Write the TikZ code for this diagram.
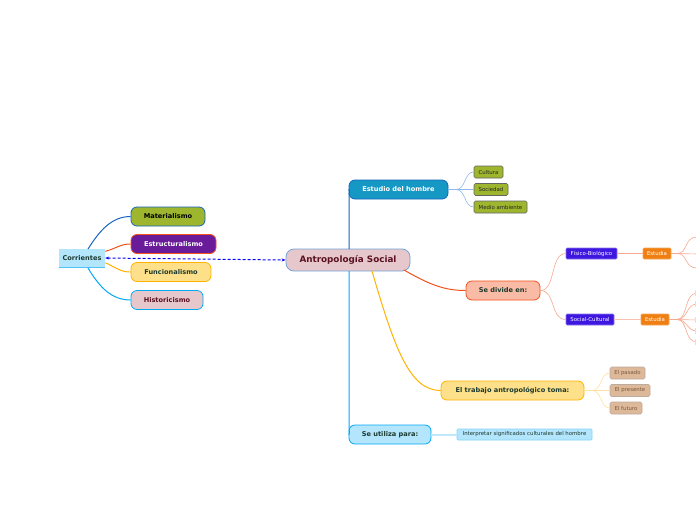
\documentclass[tikz,border=0pt]{standalone}
\usepackage{fontspec}
\setmainfont{DejaVu Sans}
\usetikzlibrary{arrows.meta}
\definecolor{cBlue}{HTML}{1565C0}
\definecolor{cRed}{HTML}{F4511E}
\definecolor{cYel}{HTML}{FFB300}
\definecolor{cCyan}{HTML}{03A9F4}
\definecolor{fCyan}{HTML}{B3E5FC}
\definecolor{fOlive}{HTML}{9EB52E}
\definecolor{fPurple}{HTML}{6A1B9A}
\definecolor{fYel}{HTML}{FFE08A}
\definecolor{fPink}{HTML}{E6C8CC}
\definecolor{fTeal}{HTML}{1598C3}
\definecolor{fSalmon}{HTML}{F9BBA5}
\definecolor{fIndigo}{HTML}{3D16E0}
\definecolor{fOrange}{HTML}{F07F12}
\definecolor{fTan}{HTML}{DDB899}
\definecolor{tDark}{HTML}{1B3A2E}
\definecolor{tWine}{HTML}{5A1020}
\definecolor{tBrown}{HTML}{7A5A40}
\definecolor{lBlue}{HTML}{90B8F0}
\definecolor{lSalmon}{HTML}{F8A890}
\definecolor{lYel}{HTML}{FFE2A0}
\definecolor{lCyan}{HTML}{C0E8FA}
\tikzset{
  box/.style={rounded corners=6pt, line width=0.8pt, font=\bfseries\fontsize{6.6}{7.5}\selectfont, inner sep=0pt, align=center},
  leaf/.style={rounded corners=1.5pt, line width=0.6pt, font=\fontsize{5.4}{6}\selectfont, inner sep=0pt, align=center},
  conn/.style={line width=1pt},
  thin/.style={line width=0.6pt}
}
\begin{document}
\begin{tikzpicture}[x=1pt,y=-1pt]
\useasboundingbox[fill=white] (0,0) rectangle (696,520);
% main nodes
\node[box, fill=fPink, draw=cBlue!60, text=tWine, minimum width=124pt, minimum height=22pt, rounded corners=8pt, font=\bfseries\fontsize{8.8}{10}\selectfont] (root) at (348,260) {Antropología Social};
\node[fill=fCyan, inner sep=0pt, minimum width=46pt, minimum height=19pt, font=\bfseries\fontsize{6.6}{7.5}\selectfont, text=tDark] (corr) at (82,258) {Corrientes};
\draw[cCyan!70, line width=0.8pt] (corr.south west) -- (corr.south east);
\node[box, fill=fOlive, draw=cBlue, text=black, minimum width=74pt, minimum height=19pt] (mat) at (168,216.5) {Materialismo};
\node[box, fill=fPurple, draw=cRed, text=white, minimum width=85pt, minimum height=19pt] (est) at (173.5,244) {Estructuralismo};
\node[box, fill=fYel, draw=cYel, text=tDark, minimum width=80pt, minimum height=19pt] (fun) at (171,272) {Funcionalismo};
\node[box, fill=fPink, draw=cCyan, text=tWine, minimum width=72pt, minimum height=19pt] (his) at (167,300) {Historicismo};

\node[box, fill=fTeal, draw=cBlue, text=white, minimum width=99pt, minimum height=19pt] (estud) at (398.5,189.5) {Estudio del hombre};
\node[leaf, fill=fOlive, draw=black!60, text=black!85, minimum width=29pt, minimum height=12pt] (cul) at (488.5,172) {Cultura};
\node[leaf, fill=fOlive, draw=black!60, text=black!85, minimum width=34pt, minimum height=12pt] (soc) at (491,189.5) {Sociedad};
\node[leaf, fill=fOlive, draw=black!60, text=black!85, minimum width=53pt, minimum height=12pt] (med) at (500.5,207) {Medio ambiente};

\node[box, fill=fSalmon, draw=cRed, text=tDark, minimum width=74pt, minimum height=19pt] (div) at (503,290.5) {Se divide en:};
\node[leaf, fill=fIndigo, draw=fIndigo!60, text=white, minimum width=51pt, minimum height=11pt, rounded corners=1pt] (fis) at (591.5,253.5) {Físico-Biológico};
\node[leaf, fill=fOrange, draw=fOrange!70, text=white, minimum width=28pt, minimum height=11pt, rounded corners=1pt] (e1) at (657,253.5) {Estudia};
\node[leaf, fill=fIndigo, draw=fIndigo!60, text=white, minimum width=48pt, minimum height=11pt, rounded corners=1pt] (sc) at (590,319.5) {Social-Cultural};
\node[leaf, fill=fOrange, draw=fOrange!70, text=white, minimum width=28pt, minimum height=11pt, rounded corners=1pt] (e2) at (655,319.5) {Estudia};

\node[box, fill=fYel, draw=cYel, text=tDark, minimum width=143pt, minimum height=19pt] (trab) at (512.5,390.5) {El trabajo antropológico toma:};
\node[leaf, fill=fTan, draw=tBrown!50, text=tBrown, minimum width=35pt, minimum height=12pt] (pas) at (627.5,373) {El pasado};
\node[leaf, fill=fTan, draw=tBrown!50, text=tBrown, minimum width=40pt, minimum height=12pt] (pre) at (630,390.5) {El presente};
\node[leaf, fill=fTan, draw=tBrown!50, text=tBrown, minimum width=32pt, minimum height=12pt] (fut) at (626,408) {El futuro};

\node[box, fill=fCyan, draw=cCyan, text=tDark, minimum width=82pt, minimum height=19pt] (uti) at (390,434.5) {Se utiliza para:};
\node[leaf, fill=fCyan, draw=cCyan!50, text=tDark, minimum width=135pt, minimum height=11pt, rounded corners=1pt] (int) at (524.5,434.5) {Interpretar significados culturales del hombre};

% connectors: Corrientes
\draw[conn, cBlue] (88,249) .. controls (100,230) and (112,216.5) .. (mat.west);
\draw[conn, cRed] (corr.north east) ++(0,3) .. controls (115,249) and (120,244) .. (est.west);
\draw[conn, cYel] (corr.south east) ++(0,-5) .. controls (115,267) and (120,272) .. (fun.west);
\draw[conn, cCyan] (88,268) .. controls (100,288) and (112,300) .. (his.west);
\draw[blue, line width=1pt, dash pattern=on 3pt off 2pt, {Stealth[length=4pt]}-{Stealth[length=4pt]}] (corr.east) -- (root.west);

% root branches
\draw[conn, cBlue] (349,249) -- (349,198) .. controls (349,193) and (350,190) .. (estud.west);
\draw[conn, cCyan] (349,271) -- (349,425) .. controls (349,430) and (350,434.5) .. (uti.west);
\draw[conn, cRed] (404,270) .. controls (430,285) and (445,290.5) .. (div.west);
\draw[conn, cYel] (372,271) .. controls (395,350) and (410,390.5) .. (trab.west);

% Estudio leaves
\draw[lBlue, line width=1.2pt] (estud.east) -- (456,189.5);
\draw[thin, lBlue] (456,189.5) .. controls (466,189.5) and (464,172) .. (cul.west);
\draw[thin, lBlue] (456,189.5) -- (soc.west);
\draw[thin, lBlue] (456,189.5) .. controls (466,189.5) and (464,207) .. (med.west);

% Se divide
\draw[thin, lSalmon] (div.east) .. controls (556,290.5) and (550,253.5) .. (fis.west);
\draw[thin, lSalmon] (div.east) .. controls (556,290.5) and (550,319.5) .. (sc.west);
\draw[thin, lSalmon] (fis.east) -- (e1.west);
\draw[lSalmon!70, line width=1.4pt] (sc.east) -- (e2.west);

% off-canvas branches
\coordinate (t1) at (697,237);
\coordinate (t2) at (697,254);
\coordinate (t3) at (697,268);
\draw[thin, lSalmon] (e1.east) -- (677,253.5);
\draw[thin, lSalmon] (677,253.5) .. controls (688,253.5) and (684,237) .. (t1);
\draw[thin, lSalmon] (677,253.5) -- (t2);
\draw[thin, lSalmon] (677,253.5) .. controls (688,253.5) and (684,268) .. (t3);
\coordinate (b1) at (697,293);
\coordinate (b2) at (697,304);
\coordinate (b3) at (697,320);
\coordinate (b4) at (697,331);
\coordinate (b5) at (697,342);
\draw[lSalmon, line width=1.4pt] (e2.east) -- (677,319.5);
\draw[thin, lSalmon] (677,319.5) .. controls (688,319.5) and (684,293) .. (b1);
\draw[thin, lSalmon] (677,319.5) .. controls (688,319.5) and (686,304) .. (b2);
\draw[thin, lSalmon] (677,319.5) -- (b3);
\draw[thin, lSalmon] (677,319.5) .. controls (688,319.5) and (686,331) .. (b4);
\draw[thin, lSalmon] (677,319.5) .. controls (688,319.5) and (684,342) .. (b5);
\foreach \yy in {290,301,317,328,339} \fill[violet!15] (695,\yy) rectangle (696,\yy+6);

% El trabajo leaves
\draw[lYel, line width=1.2pt] (trab.east) -- (592,390.5);
\draw[thin, lYel] (592,390.5) .. controls (602,390.5) and (600,373) .. (pas.west);
\draw[thin, lYel] (592,390.5) -- (pre.west);
\draw[thin, lYel] (592,390.5) .. controls (602,390.5) and (600,408) .. (fut.west);

% Se utiliza
\draw[lCyan, line width=2pt] (uti.east) -- (int.west);
\end{tikzpicture}
\end{document}
